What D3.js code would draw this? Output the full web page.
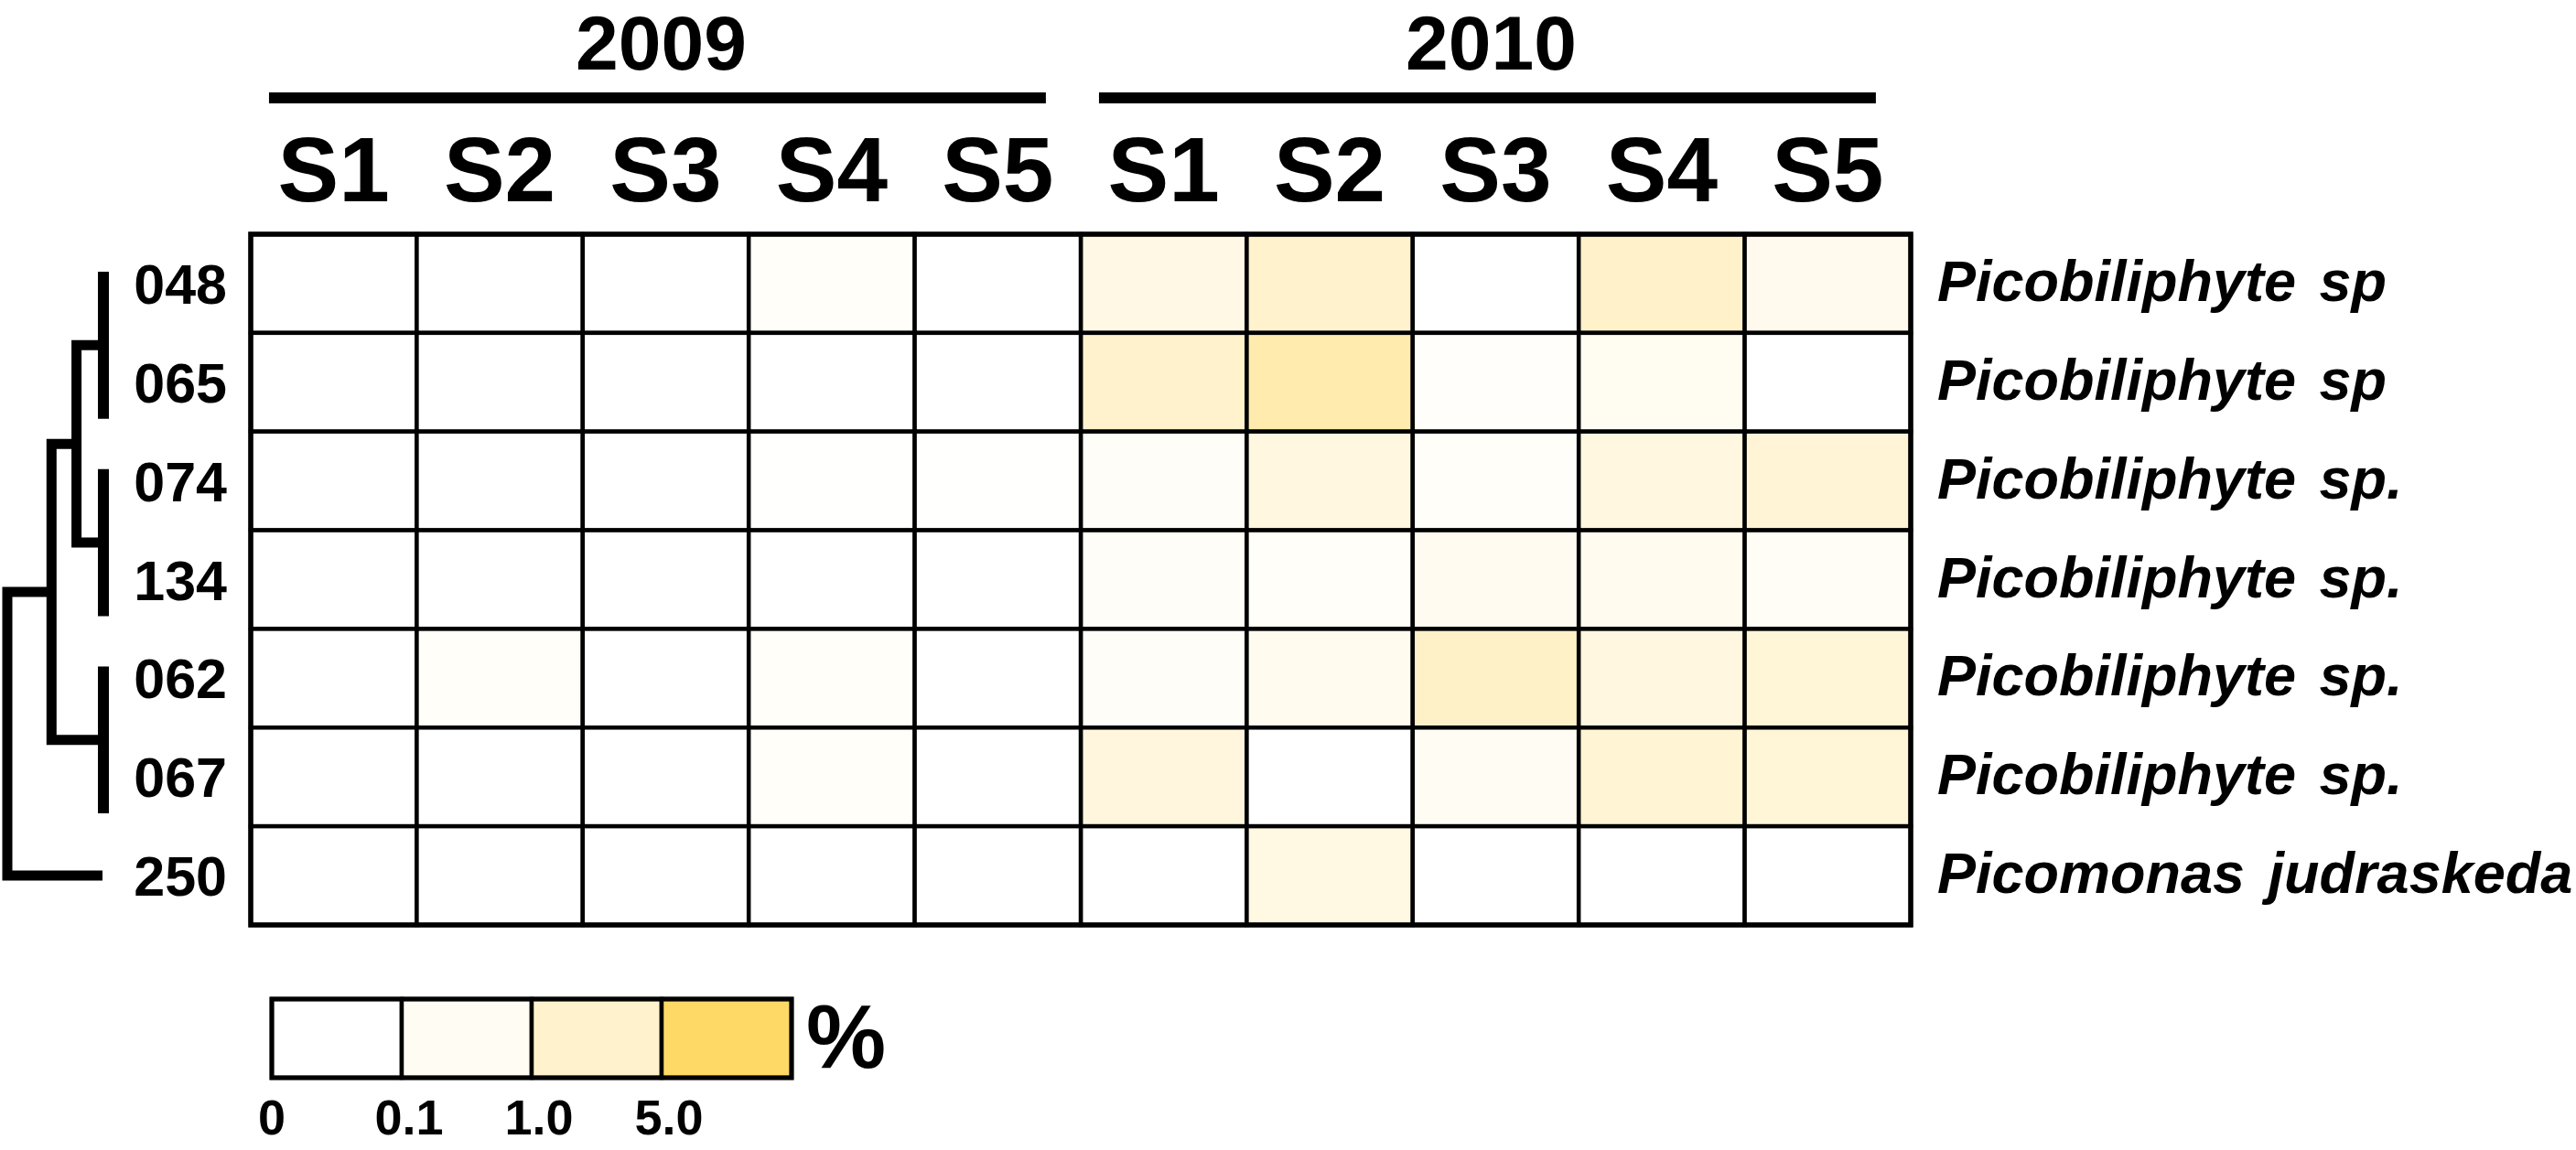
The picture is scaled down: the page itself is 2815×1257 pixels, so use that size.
<!DOCTYPE html>
<html>
<head>
<meta charset="utf-8">
<script src="https://cdn.jsdelivr.net/npm/d3@7"></script>
<style>
  html, body { margin: 0; padding: 0; background: #ffffff; }
  svg { display: block; }
  text { font-family: "Liberation Sans", Arial, Helvetica, sans-serif; font-weight: bold; fill: #000; }
</style>
</head>
<body>
<div id="chart"></div>
<script>
// ---------------- DATA ----------------
const years = ["2009", "2010"];
const sites = ["S1", "S2", "S3", "S4", "S5"];
const otus = ["048", "065", "074", "134", "062", "067", "250"];
const species = [
  "Picobiliphyte sp",
  "Picobiliphyte sp",
  "Picobiliphyte sp.",
  "Picobiliphyte sp.",
  "Picobiliphyte sp.",
  "Picobiliphyte sp.",
  "Picomonas judraskeda"
];
// relative abundance (%), rows = otus, columns = sites S1..S5
const abundance2009 = [
  [0, 0, 0, 0.05, 0],
  [0, 0, 0, 0, 0],
  [0, 0, 0, 0.015, 0.015],
  [0, 0, 0, 0, 0],
  [0, 0.05, 0, 0.05, 0],
  [0, 0, 0, 0.05, 0],
  [0, 0, 0, 0, 0]
];
const abundance2010 = [
  [0.45, 1.0, 0, 1.1, 0.25],
  [1.0, 2.2, 0.04, 0.12, 0],
  [0.06, 0.57, 0.05, 0.55, 0.76],
  [0.06, 0.05, 0.15, 0.2, 0.08],
  [0.06, 0.2, 1.2, 0.55, 0.75],
  [0.6, 0, 0.1, 0.85, 0.75],
  [0, 0.5, 0, 0, 0]
];
const legendBreaks = [0, 0.1, 1.0, 5.0];
const legendLabels = ["0", "0.1", "1.0", "5.0"];
const legendColors = ["#ffffff", "#fffcf3", "#fff2cc", "#ffd966"];
// dendrogram as a linkage list: [left, right, height]; numbers refer to earlier merges
const dendroMerges = [
  ["048", "065", 1.0],
  ["074", "134", 1.0],
  ["062", "067", 1.0],
  [0, 1, 0.72],
  [3, 2, 0.46],
  [4, "250", 0.0]
];

// ---------------- LAYOUT ----------------
const W = 2815, H = 1257;
const svg = d3.select("#chart").append("svg")
  .attr("width", W).attr("height", H)
  .attr("viewBox", `0 0 ${W} ${H}`);
svg.append("rect").attr("width", W).attr("height", H).attr("fill", "#fff");

const columns = [];
years.forEach(y => sites.forEach(s => columns.push(y + "|" + s)));

const x = d3.scaleBand().domain(columns).range([274, 2088]).padding(0);
const y = d3.scaleBand().domain(otus).range([256, 1011]).padding(0);
const color = d3.scaleLinear().domain(legendBreaks).range(legendColors)
  .interpolate(d3.interpolateRgb).clamp(true);

const cells = [];
otus.forEach((o, i) => {
  sites.forEach((s, j) => {
    cells.push({ otu: o, col: "2009|" + s, v: abundance2009[i][j] });
    cells.push({ otu: o, col: "2010|" + s, v: abundance2010[i][j] });
  });
});

// cells
svg.append("g").selectAll("rect").data(cells).join("rect")
  .attr("x", d => x(d.col))
  .attr("y", d => y(d.otu))
  .attr("width", x.bandwidth())
  .attr("height", y.bandwidth())
  .attr("fill", d => color(d.v))
  .attr("stroke", "#000")
  .attr("stroke-width", 4.5);
// outer border
svg.append("rect")
  .attr("x", x.range()[0]).attr("y", y.range()[0])
  .attr("width", x.range()[1] - x.range()[0])
  .attr("height", y.range()[1] - y.range()[0])
  .attr("fill", "none").attr("stroke", "#000").attr("stroke-width", 5.5);

// column headers
svg.append("g").selectAll("text").data(columns).join("text")
  .attr("x", d => x(d) + x.bandwidth() / 2)
  .attr("y", 220)
  .attr("text-anchor", "middle")
  .attr("font-size", 100)
  .text(d => d.split("|")[1]);

// year bars and labels
const bw = x.bandwidth();
years.forEach(yr => {
  const x0 = x(yr + "|" + sites[0]) + bw * 0.11;
  const x1 = x(yr + "|" + sites[sites.length - 1]) + bw - bw * 0.21;
  svg.append("line")
    .attr("x1", x0).attr("x2", x1).attr("y1", 107).attr("y2", 107)
    .attr("stroke", "#000").attr("stroke-width", 12);
  svg.append("text")
    .attr("x", (x0 + x1) / 2 + 4).attr("y", 76)
    .attr("text-anchor", "middle").attr("font-size", 84)
    .text(yr);
});

// row labels (OTU numbers)
const bh = y.bandwidth();
svg.append("g").selectAll("text").data(otus).join("text")
  .attr("x", 248)
  .attr("y", d => y(d) + bh / 2 + 22)
  .attr("text-anchor", "end")
  .attr("font-size", 61)
  .text(d => d);

// species labels
svg.append("g").selectAll("text").data(species).join("text")
  .attr("x", x.range()[1] + 29)
  .attr("y", (d, i) => y(otus[i]) + bh / 2 + 19)
  .attr("font-size", 63)
  .attr("font-style", "italic")
  .attr("word-spacing", 8)
  .text(d => d);

// ---------------- DENDROGRAM ----------------
const dx = d3.scaleLinear().domain([0, 1]).range([8, 113]);
const yc = o => y(o) + bh / 2;
const nodes = [];
const dg = svg.append("g").attr("fill", "none").attr("stroke", "#000")
  .attr("stroke-width", 11).attr("stroke-linejoin", "miter");

function endpoint(ref) {
  if (typeof ref === "string") return { x: dx(1), y: yc(ref), leaf: true };
  return { x: nodes[ref].x, y: nodes[ref].mid, leaf: false };
}

dendroMerges.forEach(([a, b, h]) => {
  if (typeof a === "string" && typeof b === "string") {
    const top = yc(a) - 0.12 * bh;
    const bottom = yc(b) + 0.37 * bh;
    dg.append("line")
      .attr("x1", dx(h)).attr("x2", dx(h))
      .attr("y1", top).attr("y2", bottom)
      .attr("stroke-width", 12);
    nodes.push({ x: dx(h), mid: (top + bottom) / 2 });
  } else {
    const A = endpoint(a), B = endpoint(b);
    const xn = dx(h);
    const p = d3.path();
    p.moveTo(A.x, A.y);
    p.lineTo(xn, A.y);
    p.lineTo(xn, B.y);
    p.lineTo(B.leaf ? B.x - 1 : B.x, B.y);
    dg.append("path").attr("d", p.toString());
    nodes.push({ x: xn, mid: (A.y + B.y) / 2 });
  }
});

// ---------------- LEGEND ----------------
const lx = d3.scaleBand().domain(legendLabels).range([297, 865]).padding(0);
const lg = svg.append("g");
lg.selectAll("rect").data(legendLabels).join("rect")
  .attr("x", d => lx(d)).attr("y", 1092)
  .attr("width", lx.bandwidth()).attr("height", 86)
  .attr("fill", (d, i) => legendColors[i])
  .attr("stroke", "#000").attr("stroke-width", 4.5);
lg.append("rect")
  .attr("x", 297).attr("y", 1092).attr("width", 568).attr("height", 86)
  .attr("fill", "none").attr("stroke", "#000").attr("stroke-width", 5);
lg.selectAll("text.tick").data(legendLabels).join("text")
  .attr("class", "tick")
  .attr("x", (d, i) => lx(d) + (i === 0 ? 0 : 8))
  .attr("y", 1240)
  .attr("text-anchor", "middle")
  .attr("font-size", 54)
  .text(d => d);
lg.append("text")
  .attr("x", 881).attr("y", 1167)
  .attr("font-size", 98)
  .text("%");
</script>
</body>
</html>
